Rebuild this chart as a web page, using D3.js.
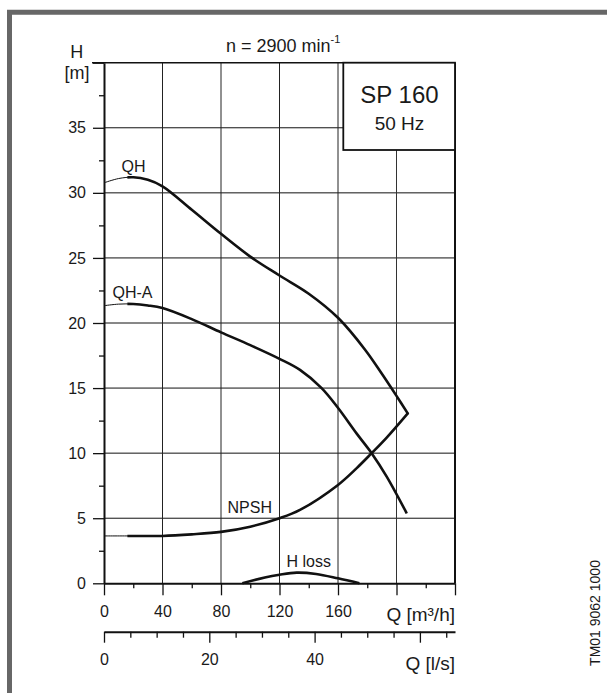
<!DOCTYPE html>
<html><head><meta charset="utf-8">
<script src="https://cdn.jsdelivr.net/npm/d3@7"></script>
<style>
html,body{margin:0;padding:0;background:#fff;}
svg text{font-family:"Liberation Sans",Arial,sans-serif;fill:#1a1a1a;}
</style></head>
<body><svg id="c" width="607" height="693"></svg>
<script>
// ---- data (Q in m3/h, H in m) ----
const qhQ  = [0, 10, 20, 30, 40, 60, 80, 100, 120, 140, 160, 178.5, 190, 200, 208];
const qhH  = [30.77, 31.1, 31.2, 31.0, 30.5, 28.7, 26.85, 25.1, 23.65, 22.25, 20.4, 17.95, 16.1, 14.4, 13.0];
const qhaQ = [0, 10, 20, 30, 40, 60, 80, 100, 120, 134, 148.8, 160.2, 172.8, 183, 193.3, 207];
const qhaH = [21.33, 21.45, 21.46, 21.35, 21.15, 20.3, 19.28, 18.3, 17.25, 16.4, 15.0, 13.45, 11.5, 10.0, 8.2, 5.38];
const npQ  = [0, 20, 40, 60, 80, 100, 120, 134, 160, 172.8, 183, 193.3, 208];
const npH  = [3.64, 3.64, 3.64, 3.76, 3.95, 4.35, 5.0, 5.64, 7.56, 8.85, 10.0, 11.2, 13.1];
const hlQ  = [94.6, 110, 120, 131.7, 145, 160, 174.6];
const hlH  = [0, 0.45, 0.66, 0.82, 0.72, 0.38, 0];
const yMajor = [0, 5, 10, 15, 20, 25, 30, 35, 40];
const yLabels = ["0","5","10","15","20","25","30","35",""];
const xMajor = [0, 40, 80, 120, 160, 200, 240];
const xLabels = ["0","40","80","120","160","",""];
const lsMajor = [0, 20, 40, 60];
const lsLabels = ["0","20","40",""];

const svg = d3.select("#c");
const L = 104, R = 455, T = 62.7, B = 583.3;
const x = d3.scaleLinear().domain([0, 240]).range([L, R]);
const y = d3.scaleLinear().domain([0, 40]).range([B, T]);
const xl = d3.scaleLinear().domain([0, 240/3.6]).range([L, R]);

// outer frame
svg.append("path").attr("d", `M9.5,693 V12.2 H607`).attr("fill","none")
  .attr("stroke","#676767").attr("stroke-width",5);

// grid
const g = svg.append("g");
[5,10,15,20,25,30].forEach(v => g.append("line").attr("x1",L).attr("x2",R)
  .attr("y1",y(v)).attr("y2",y(v)).attr("stroke","#111").attr("stroke-width",1));
g.append("line").attr("x1",L).attr("x2",343.3).attr("y1",y(35)).attr("y2",y(35))
  .attr("stroke","#111").attr("stroke-width",1);
[40,80,120,160].forEach(v => g.append("line").attr("x1",x(v)).attr("x2",x(v))
  .attr("y1",T).attr("y2",B).attr("stroke","#222").attr("stroke-width",1));
g.append("line").attr("x1",x(200)).attr("x2",x(200)).attr("y1",150).attr("y2",B)
  .attr("stroke","#333").attr("stroke-width",1);
// top and right frame
g.append("line").attr("x1",L-12).attr("x2",R).attr("y1",T).attr("y2",T)
  .attr("stroke","#111").attr("stroke-width",1.5);
g.append("line").attr("x1",R).attr("x2",R).attr("y1",T).attr("y2",B)
  .attr("stroke","#111").attr("stroke-width",2);

// SP box
svg.append("rect").attr("x",343.3).attr("y",T).attr("width",R-343.3).attr("height",150-T)
  .attr("fill","#fff").attr("stroke","#111").attr("stroke-width",1.8);
svg.append("text").attr("x",399.5).attr("y",103).attr("text-anchor","middle")
  .attr("font-size",24).text("SP 160");
svg.append("text").attr("x",399.5).attr("y",130).attr("text-anchor","middle")
  .attr("font-size",19).text("50 Hz");

// axes
function styleAxis(sel, w){
  sel.selectAll("path.domain").attr("stroke","#111").attr("stroke-width",w);
  sel.selectAll(".tick line").attr("stroke","#111").attr("stroke-width",1.3);
  sel.selectAll("text").attr("font-size",16).attr("fill","#1a1a1a")
     .attr("font-family","Liberation Sans, Arial, sans-serif");
}
const yMin = svg.append("g").attr("transform",`translate(${L},0)`)
  .call(d3.axisLeft(y).tickValues(d3.range(2.5,40,5)).tickSize(5).tickFormat(""));
yMin.select(".domain").remove(); styleAxis(yMin,0);
const yAx = svg.append("g").attr("transform",`translate(${L},0)`)
  .call(d3.axisLeft(y).tickValues(yMajor).tickSize(11).tickPadding(7)
  .tickFormat((d,i)=>yLabels[i]).tickSizeOuter(0));
styleAxis(yAx,2);

const xMin = svg.append("g").attr("transform",`translate(0,${B})`)
  .call(d3.axisBottom(x).tickValues(d3.range(20,240,40)).tickSize(5).tickFormat(""));
xMin.select(".domain").remove(); styleAxis(xMin,0);
const xAx = svg.append("g").attr("transform",`translate(0,${B})`)
  .call(d3.axisBottom(x).tickValues(xMajor).tickSize(12).tickPadding(10)
  .tickFormat((d,i)=>xLabels[i]).tickSizeOuter(0));
styleAxis(xAx,2);

const lsY = 631.7;
const lMin = svg.append("g").attr("transform",`translate(0,${lsY})`)
  .call(d3.axisBottom(xl).tickValues(d3.range(5,67,5).filter(v=>v%20!==0)).tickSize(6).tickFormat(""));
lMin.select(".domain").remove(); styleAxis(lMin,0);
const lAx = svg.append("g").attr("transform",`translate(0,${lsY})`)
  .call(d3.axisBottom(xl).tickValues(lsMajor).tickSize(11).tickPadding(11)
  .tickFormat((d,i)=>lsLabels[i]).tickSizeOuter(0));
styleAxis(lAx,2);

// axis titles
svg.append("text").attr("x",455).attr("y",621).attr("text-anchor","end")
  .attr("font-size",19).text("Q [m³/h]");
svg.append("text").attr("x",455).attr("y",670).attr("text-anchor","end")
  .attr("font-size",19).text("Q [l/s]");
svg.append("text").attr("x",76.7).attr("y",58.3).attr("text-anchor","middle")
  .attr("font-size",18).text("H");
svg.append("text").attr("x",77).attr("y",79).attr("text-anchor","middle")
  .attr("font-size",18).text("[m]");
const tt = svg.append("text").attr("x",226).attr("y",51.5).attr("font-size",18);
tt.append("tspan").text("n = 2900 min");
tt.append("tspan").attr("font-size",11).attr("dy",-9).text("-1");
svg.append("text").attr("transform","translate(600,613) rotate(-90)")
  .attr("text-anchor","middle").attr("font-size",14).text("TM01 9062 1000");

// curves
svg.append("clipPath").attr("id","thick").append("rect")
  .attr("x",x(16)).attr("y",0).attr("width",R-x(16)+10).attr("height",693);
const line = d3.line().x(d=>x(d[0])).y(d=>y(d[1])).curve(d3.curveCatmullRom.alpha(0.5));
function curve(qs, hs, thin){
  const pts = qs.map((q,i)=>[q,hs[i]]);
  if(thin){
    svg.append("path").attr("d",line(pts)).attr("fill","none").attr("stroke","#111").attr("stroke-width",1);
    svg.append("path").attr("d",line(pts)).attr("fill","none").attr("stroke","#111")
      .attr("stroke-width",2.6).attr("clip-path","url(#thick)");
  } else {
    svg.append("path").attr("d",line(pts)).attr("fill","none").attr("stroke","#111").attr("stroke-width",2.6);
  }
}
curve(qhQ, qhH, true);
curve(qhaQ, qhaH, true);
curve(npQ, npH, true);
curve(hlQ, hlH, false);

// curve labels
svg.append("text").attr("x",133.5).attr("y",171.5).attr("text-anchor","middle").attr("font-size",16).text("QH");
svg.append("text").attr("x",112.5).attr("y",297.5).attr("font-size",16).text("QH-A");
svg.append("text").attr("x",227.5).attr("y",512.5).attr("font-size",16).text("NPSH");
svg.append("text").attr("x",286.5).attr("y",566.5).attr("font-size",16).text("H loss");
</script></body></html>
